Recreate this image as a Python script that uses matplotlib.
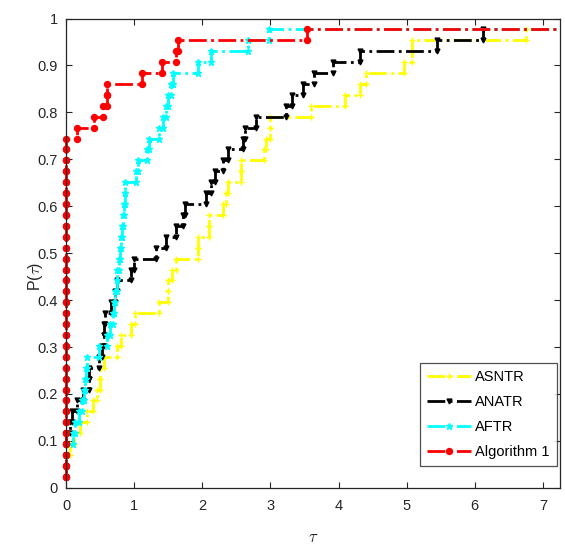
import matplotlib
matplotlib.use("Agg")
import matplotlib.pyplot as plt
import numpy as np

plt.rcParams['font.family'] = ['Liberation Sans', 'DejaVu Sans']
plt.rcParams['mathtext.fontset'] = 'cm'

n_prob = 43
solvers = ["ASNTR", "ANATR", "AFTR", "Algorithm 1"]

# tau values (log ratio) per problem, sorted; inf = failed
tau_asntr = [0, 0, 0, 0.06, 0.11, 0.2, 0.3, 0.4, 0.45, 0.5, 0.5, 0.55, 0.75, 0.8,
             0.96, 1.01, 1.37, 1.5, 1.5, 1.56, 1.62, 1.94, 1.94, 2.1, 2.1, 2.3,
             2.35, 2.37, 2.57, 2.57, 2.91, 2.93, 3.0, 3.0, 3.59, 4.1, 4.32, 4.4,
             4.96, 5.08, 5.08, 6.75, np.inf]
tau_anatr = [0, 0, 0, 0, 0, 0.06, 0.08, 0.16, 0.25, 0.33, 0.33, 0.49, 0.53, 0.55,
             0.56, 0.57, 0.66, 0.72, 0.74, 0.95, 1.0, 1.32, 1.46, 1.62, 1.72, 1.74,
             2.06, 2.12, 2.18, 2.3, 2.38, 2.59, 2.62, 2.79, 3.23, 3.32, 3.48, 3.64,
             3.92, 4.32, 5.44, 6.12, np.inf]
tau_aftr = [0, 0, 0, 0, 0.098, 0.13, 0.195, 0.23, 0.26, 0.28, 0.29, 0.3, 0.49, 0.595,
            0.64, 0.69, 0.7, 0.72, 0.74, 0.75, 0.77, 0.79, 0.8, 0.82, 0.84, 0.85,
            0.86, 0.86, 1.02, 1.06, 1.19, 1.22, 1.37, 1.42, 1.47, 1.5, 1.545, 1.57,
            1.93, 2.13, 2.675, 2.98, np.inf]
tau_alg1 = [0] * 32 + [0.165, 0.41, 0.545, 0.595, 0.595, 1.12, 1.41, 1.61, 1.64,
                       3.53, np.inf]

colors = ["#ffff00", "#000000", "#00ffff", "#ff0000"]
markers = ["+", "v", "*", "o"]
msizes = [5, 3.5, 5, 4.3]

x_right = 7.25


def stairs_xy(taus):
    t = np.array(taus, dtype=float)
    p = np.arange(1, len(t) + 1) / n_prob
    ok = np.isfinite(t)
    t, p = t[ok], p[ok]
    t = np.append(t, x_right)
    p = np.append(p, p[-1])
    xs = np.repeat(t, 2)[1:]
    ys = np.repeat(p, 2)[:-1]
    return xs, ys


fig = plt.figure(figsize=(5.65, 5.45), dpi=100)
ax = fig.add_axes([0.117, 0.105, 0.874, 0.861])

for taus, name, c, m, ms in zip([tau_asntr, tau_anatr, tau_aftr, tau_alg1],
                                solvers, colors, markers, msizes):
    xs, ys = stairs_xy(taus)
    # no marker on the tail that runs to the right edge
    ax.plot(xs, ys, linestyle='-.', color=c, linewidth=2, marker=m,
            markersize=ms, markerfacecolor=c, markeredgecolor=c, label=name,
            markevery=list(range(len(xs) - 2)), clip_on=False)

ax.set_xlim(0, x_right)
ax.set_ylim(0, 1)
ax.set_xticks(np.arange(0, 8, 1))
ax.set_yticks(np.arange(0, 1.01, 0.1))
ax.set_yticklabels(["0", "0.1", "0.2", "0.3", "0.4", "0.5", "0.6", "0.7",
                    "0.8", "0.9", "1"])
ax.tick_params(direction='in', top=True, right=True, labelsize=10.5,
               colors='#262626', length=4)
ax.tick_params(axis='x', pad=8)
ax.tick_params(axis='y', pad=6)
for s in ax.spines.values():
    s.set_color('#262626')
    s.set_linewidth(0.9)

ax.set_xlabel(r'$\tau$', fontsize=12, color='#262626', labelpad=12)
ax.set_ylabel(r'P($\tau$)', fontsize=11.5, color='#262626')
ax.yaxis.set_label_coords(-0.043, 0.45)

leg = ax.legend(loc='lower right', bbox_to_anchor=(1.0, 0.04), fontsize=10.5,
                frameon=True, fancybox=False, edgecolor='#262626',
                handlelength=3.0, borderpad=0.5, labelspacing=0.75,
                handletextpad=0.3, borderaxespad=0.2)
leg.get_frame().set_linewidth(0.9)

fig.savefig("out.png", dpi=100)
